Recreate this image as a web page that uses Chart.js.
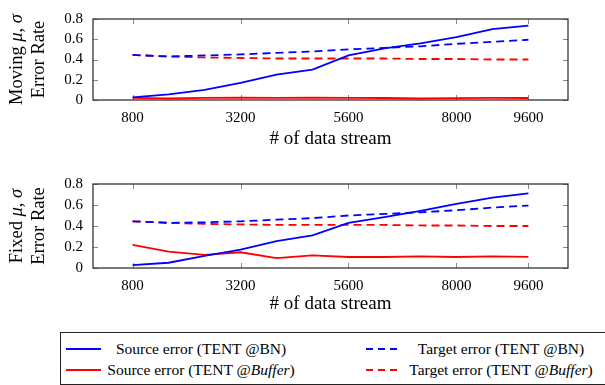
<!DOCTYPE html>
<html>
<head>
<meta charset="utf-8">
<script src="https://cdn.jsdelivr.net/npm/chart.js@4.4.1/dist/chart.umd.min.js"></script>
<style>
  body { margin: 0; background: #fff; font-family: "Liberation Serif", serif; }
  #wrap { position: relative; width: 605px; height: 385px; overflow: hidden; }
  .box { position: absolute; left: 0; width: 605px; height: 150px; }
  #legend { position: absolute; left: 60px; top: 332px; width: 560px; height: 51px; border: 1px solid #222; }
  .lg { position: absolute; font-size: 15.5px; color: #000; white-space: nowrap; transform: translate(-50%, -50%); }
</style>
</head>
<body>
<div id="wrap">
  <div class="box" style="top:0"><canvas id="topChart"></canvas></div>
  <div class="box" style="top:165px"><canvas id="bottomChart"></canvas></div>
  <div id="legend"></div>
</div>
<script>
// x positions (# of data stream)
var streams = [800, 1600, 2400, 3200, 4000, 4800, 5600, 6400, 7200, 8000, 8800, 9600];
var xTicks = [800, 3200, 5600, 8000, 9600];

// Moving mu, sigma
var movSrcBN  = [0.025, 0.055, 0.10, 0.17, 0.25, 0.30, 0.44, 0.51, 0.56, 0.62, 0.70, 0.735];
var movTgtBN  = [0.445, 0.43, 0.44, 0.45, 0.465, 0.48, 0.50, 0.515, 0.53, 0.555, 0.575, 0.595];
var movSrcBuf = [0.02, 0.015, 0.02, 0.022, 0.02, 0.022, 0.02, 0.02, 0.015, 0.018, 0.02, 0.02];
var movTgtBuf = [0.445, 0.43, 0.42, 0.415, 0.41, 0.41, 0.41, 0.41, 0.405, 0.405, 0.40, 0.40];

// Fixed mu, sigma
var fixSrcBN  = [0.027, 0.05, 0.115, 0.175, 0.255, 0.31, 0.43, 0.485, 0.545, 0.61, 0.67, 0.71];
var fixTgtBN  = [0.445, 0.43, 0.435, 0.445, 0.46, 0.475, 0.50, 0.515, 0.53, 0.55, 0.575, 0.595];
var fixSrcBuf = [0.22, 0.155, 0.125, 0.15, 0.095, 0.12, 0.105, 0.105, 0.11, 0.105, 0.11, 0.105];
var fixTgtBuf = [0.445, 0.43, 0.42, 0.415, 0.41, 0.41, 0.41, 0.41, 0.405, 0.405, 0.40, 0.40];

var BLUE = '#0000ff', RED = '#ff0000';
var DASH = [8, 5];
var SERIF = "'Liberation Serif', serif";

Chart.defaults.font.family = SERIF;
Chart.defaults.color = '#000';

function pts(vals) {
  return vals.map(function (v, i) { return { x: streams[i], y: v }; });
}

function ds(vals, color, dashed) {
  return {
    data: pts(vals),
    borderColor: color,
    backgroundColor: color,
    borderWidth: 1.8,
    borderDash: dashed ? DASH : [],
    pointRadius: 0,
    tension: 0,
    fill: false
  };
}

// box around plot area with inner tick marks, pgfplots style
var frame = {
  id: 'frame',
  beforeDatasetsDraw: function (chart) {
    var c = chart.ctx, a = chart.chartArea;
    var xs = chart.scales.x, ys = chart.scales.y;
    c.save();
    c.strokeStyle = '#888';
    c.lineWidth = 1;
    c.beginPath();
    xs.ticks.forEach(function (t) {
      var px = Math.round(xs.getPixelForValue(t.value)) + 0.5;
      c.moveTo(px, a.bottom); c.lineTo(px, a.bottom - 5);
      c.moveTo(px, a.top); c.lineTo(px, a.top + 5);
    });
    ys.ticks.forEach(function (t) {
      var py = Math.round(ys.getPixelForValue(t.value)) + 0.5;
      c.moveTo(a.left, py); c.lineTo(a.left + 5, py);
      c.moveTo(a.right, py); c.lineTo(a.right - 5, py);
    });
    c.stroke();
    c.strokeStyle = '#333';
    c.lineWidth = 1.3;
    c.strokeRect(a.left, a.top, a.right - a.left, a.bottom - a.top);
    c.restore();
  }
};

// rotated y title with italic mu / sigma
var yTitle = {
  id: 'yTitle',
  afterDraw: function (chart, args, opts) {
    var c = chart.ctx, a = chart.chartArea;
    var midY = (a.top + a.bottom) / 2;
    c.save();
    c.fillStyle = '#000';
    c.textBaseline = 'middle';
    opts.lines.forEach(function (segs, li) {
      var total = 0;
      segs.forEach(function (s) {
        c.font = (s[1] ? 'italic ' : '') + '18.5px ' + SERIF;
        total += c.measureText(s[0]).width;
      });
      c.save();
      c.translate(17 + li * 22, midY);
      c.rotate(-Math.PI / 2);
      var x = -total / 2;
      segs.forEach(function (s) {
        c.font = (s[1] ? 'italic ' : '') + '18.5px ' + SERIF;
        c.fillText(s[0], x, 0);
        x += c.measureText(s[0]).width;
      });
      c.restore();
    });
    c.restore();
  }
};

function makeChart(id, datasets, titleLines, topPad, xHeight) {
  return new Chart(document.getElementById(id), {
    type: 'line',
    data: { datasets: datasets },
    plugins: [frame, yTitle],
    options: {
      responsive: true,
      maintainAspectRatio: false,
      animation: false,
      layout: { padding: { top: topPad, right: 37, left: 0, bottom: 0 } },
      plugins: {
        legend: { display: false },
        tooltip: { enabled: false },
        yTitle: { lines: titleLines }
      },
      scales: {
        x: {
          type: 'linear',
          min: -80,
          max: 10480,
          afterBuildTicks: function (s) { s.ticks = xTicks.map(function (v) { return { value: v }; }); },
          afterFit: function (s) { s.height = xHeight; },
          grid: { display: false, drawTicks: false },
          border: { display: false },
          ticks: {
            padding: 9,
            maxRotation: 0,
            autoSkip: false,
            font: { family: SERIF, size: 15 },
            callback: function (v) { return String(v); }
          },
          title: {
            display: true,
            text: '# of data stream',
            font: { family: SERIF, size: 19 },
            padding: { top: 0, bottom: 0 }
          }
        },
        y: {
          min: 0,
          max: 0.8,
          afterFit: function (s) { s.width = 93; },
          grid: { display: false, drawTicks: false },
          border: { display: false },
          ticks: {
            stepSize: 0.2,
            autoSkip: false,
            padding: 10,
            font: { family: SERIF, size: 15 },
            callback: function (v) { return v === 0 ? '0' : v.toFixed(1); }
          }
        }
      }
    }
  });
}

makeChart('topChart', [
  ds(movSrcBN, BLUE, false),
  ds(movTgtBN, BLUE, true),
  ds(movSrcBuf, RED, false),
  ds(movTgtBuf, RED, true)
], [[['Moving ', false], ['μ', true], [', ', false], ['σ', true]], [['Error Rate', false]]], 10, 50);

makeChart('bottomChart', [
  ds(fixSrcBN, BLUE, false),
  ds(fixTgtBN, BLUE, true),
  ds(fixSrcBuf, RED, false),
  ds(fixTgtBuf, RED, true)
], [[['Fixed ', false], ['μ', true], [', ', false], ['σ', true]], [['Error Rate', false]]], 13, 47);

// legend below both plots
var legendItems = [
  { label: 'Source error (TENT @BN)', color: BLUE, dashed: false, col: 0, row: 0 },
  { label: 'Target error (TENT @BN)', color: BLUE, dashed: true, col: 1, row: 0 },
  { label: 'Source error (TENT @<i>Buffer</i>)', color: RED, dashed: false, col: 0, row: 1 },
  { label: 'Target error (TENT @<i>Buffer</i>)', color: RED, dashed: true, col: 1, row: 1 }
];
var lg = document.getElementById('legend');
legendItems.forEach(function (it) {
  var y = 16 + it.row * 21;
  var x0 = 5 + it.col * 300;
  var svg = '<svg style="position:absolute;left:' + x0 + 'px;top:' + (y - 3) + 'px" width="35" height="6">' +
    '<line x1="0" y1="3" x2="35" y2="3" stroke="' + it.color + '" stroke-width="1.8"' +
    (it.dashed ? ' stroke-dasharray="7,5"' : '') + '/></svg>';
  lg.insertAdjacentHTML('beforeend', svg);
  lg.insertAdjacentHTML('beforeend',
    '<div class="lg" style="left:' + (x0 + 135) + 'px;top:' + y + 'px">' + it.label + '</div>');
});
</script>
</body>
</html>
